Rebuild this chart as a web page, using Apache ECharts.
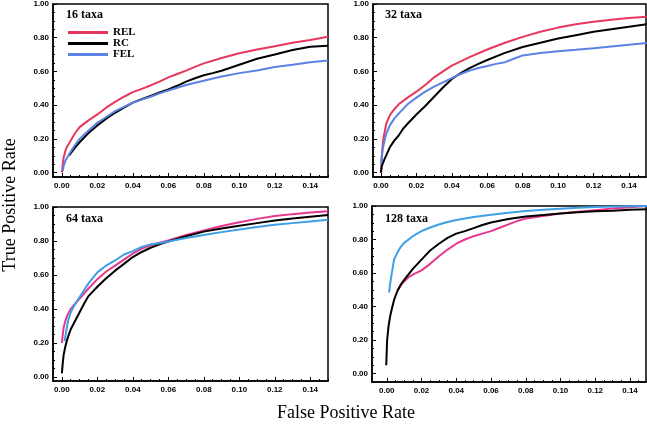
<!DOCTYPE html>
<html><head><meta charset="utf-8">
<script src="https://cdn.jsdelivr.net/npm/echarts@6/dist/echarts.min.js"></script>
<style>html,body{margin:0;padding:0;background:#fff}#c{width:647px;height:427px}</style>
</head><body><div id="c"></div>
<script>
// ---- data ----
const panelTitles = ['16 taxa', '32 taxa', '64 taxa', '128 taxa'];
const seriesNames = ['REL', 'RC', 'FEL'];
const xTickLabels = [0, 0.02, 0.04, 0.06, 0.08, 0.10, 0.12, 0.14];
const yTickLabels = [0, 0.2, 0.4, 0.6, 0.8, 1.0];
const xMinorTicks = [0,0.005,0.01,0.015,0.02,0.025,0.03,0.035,0.04,0.045,0.05,0.055,0.06,0.065,0.07,0.075,0.08,0.085,0.09,0.095,0.10,0.105,0.11,0.115,0.12,0.125,0.13,0.135,0.14,0.145,0.15];
const yMinorTicks = [0,0.05,0.1,0.15,0.2,0.25,0.3,0.35,0.4,0.45,0.5,0.55,0.6,0.65,0.7,0.75,0.8,0.85,0.9,0.95,1.0];

const rel16 = [[0,0],[0.0005,0.05],[0.001,0.09],[0.002,0.13],[0.003,0.155],[0.005,0.19],[0.0075,0.235],[0.01,0.27],[0.015,0.31],[0.02,0.345],[0.025,0.385],[0.03,0.42],[0.035,0.45],[0.04,0.477],[0.045,0.497],[0.05,0.517],[0.055,0.54],[0.06,0.565],[0.065,0.585],[0.07,0.605],[0.075,0.627],[0.08,0.648],[0.09,0.68],[0.10,0.708],[0.11,0.73],[0.12,0.75],[0.13,0.77],[0.14,0.787],[0.15,0.806]];
const rc16 = [[0.004,0.10],[0.005,0.11],[0.0075,0.15],[0.01,0.18],[0.015,0.235],[0.02,0.28],[0.025,0.32],[0.03,0.355],[0.035,0.385],[0.04,0.415],[0.045,0.435],[0.05,0.455],[0.055,0.475],[0.06,0.493],[0.065,0.515],[0.07,0.54],[0.075,0.56],[0.08,0.577],[0.085,0.59],[0.09,0.604],[0.095,0.622],[0.10,0.64],[0.11,0.675],[0.12,0.70],[0.13,0.727],[0.14,0.747],[0.15,0.753]];
const fel16 = [[0.0005,0.01],[0.001,0.04],[0.002,0.07],[0.003,0.09],[0.005,0.125],[0.0075,0.165],[0.01,0.20],[0.015,0.25],[0.02,0.295],[0.025,0.33],[0.03,0.365],[0.035,0.39],[0.04,0.415],[0.045,0.433],[0.05,0.45],[0.055,0.47],[0.06,0.487],[0.07,0.52],[0.08,0.545],[0.09,0.57],[0.10,0.59],[0.11,0.606],[0.12,0.626],[0.13,0.64],[0.14,0.655],[0.15,0.665]];

const rel32 = [[0,0],[0.0005,0.1],[0.001,0.17],[0.0015,0.21],[0.003,0.29],[0.005,0.34],[0.007,0.37],[0.01,0.405],[0.015,0.445],[0.02,0.48],[0.025,0.52],[0.03,0.565],[0.035,0.60],[0.04,0.635],[0.045,0.66],[0.05,0.685],[0.06,0.73],[0.07,0.77],[0.08,0.805],[0.09,0.835],[0.10,0.86],[0.11,0.88],[0.12,0.895],[0.13,0.907],[0.14,0.917],[0.15,0.925]];
const rc32 = [[0,0],[0.0005,0.04],[0.002,0.08],[0.005,0.15],[0.0075,0.19],[0.01,0.22],[0.0125,0.26],[0.015,0.29],[0.02,0.345],[0.025,0.395],[0.03,0.45],[0.035,0.505],[0.04,0.555],[0.045,0.59],[0.05,0.62],[0.055,0.645],[0.06,0.668],[0.07,0.71],[0.08,0.745],[0.09,0.77],[0.10,0.795],[0.11,0.815],[0.12,0.835],[0.13,0.85],[0.14,0.865],[0.15,0.88]];
const fel32 = [[0,0.05],[0.0005,0.09],[0.001,0.14],[0.002,0.19],[0.003,0.23],[0.005,0.28],[0.0075,0.32],[0.01,0.35],[0.015,0.405],[0.02,0.445],[0.025,0.48],[0.03,0.51],[0.035,0.535],[0.04,0.56],[0.045,0.585],[0.05,0.605],[0.055,0.62],[0.06,0.632],[0.065,0.645],[0.07,0.655],[0.075,0.675],[0.08,0.695],[0.09,0.71],[0.10,0.72],[0.11,0.728],[0.12,0.737],[0.13,0.748],[0.14,0.758],[0.15,0.768]];

const rel64 = [[0,0.2],[0.0005,0.25],[0.001,0.29],[0.002,0.33],[0.003,0.36],[0.005,0.40],[0.0075,0.43],[0.01,0.46],[0.015,0.52],[0.02,0.575],[0.025,0.62],[0.03,0.655],[0.035,0.69],[0.04,0.725],[0.045,0.755],[0.05,0.775],[0.055,0.79],[0.06,0.803],[0.07,0.835],[0.08,0.862],[0.09,0.888],[0.10,0.91],[0.11,0.93],[0.12,0.947],[0.13,0.958],[0.14,0.968],[0.15,0.975]];
const rc64 = [[0,0.02],[0.0005,0.08],[0.001,0.13],[0.002,0.18],[0.003,0.22],[0.005,0.28],[0.0075,0.33],[0.01,0.38],[0.0125,0.43],[0.015,0.475],[0.02,0.53],[0.025,0.58],[0.03,0.625],[0.035,0.665],[0.04,0.705],[0.045,0.735],[0.05,0.76],[0.055,0.78],[0.06,0.797],[0.07,0.828],[0.08,0.855],[0.09,0.873],[0.10,0.89],[0.11,0.905],[0.12,0.92],[0.13,0.932],[0.14,0.943],[0.15,0.953]];
const fel64 = [[0.0015,0.21],[0.0025,0.27],[0.0035,0.33],[0.005,0.38],[0.0075,0.43],[0.01,0.47],[0.0125,0.51],[0.015,0.55],[0.02,0.615],[0.025,0.655],[0.03,0.685],[0.035,0.72],[0.04,0.74],[0.045,0.765],[0.05,0.78],[0.055,0.787],[0.06,0.797],[0.07,0.817],[0.08,0.835],[0.09,0.852],[0.10,0.868],[0.11,0.882],[0.12,0.895],[0.13,0.905],[0.14,0.915],[0.15,0.925]];

const rel128 = [[0.0061,0.496],[0.008,0.525],[0.01,0.55],[0.0125,0.575],[0.015,0.59],[0.02,0.616],[0.025,0.655],[0.03,0.70],[0.035,0.74],[0.04,0.775],[0.045,0.80],[0.05,0.82],[0.055,0.835],[0.06,0.85],[0.065,0.87],[0.07,0.89],[0.075,0.91],[0.08,0.925],[0.09,0.94],[0.10,0.955],[0.11,0.965],[0.12,0.975],[0.13,0.985],[0.14,0.992],[0.15,1.0]];
const rc128 = [[-0.0003,0.05],[0.0002,0.2],[0.001,0.28],[0.0019,0.34],[0.003,0.39],[0.0042,0.44],[0.006,0.49],[0.008,0.53],[0.01,0.56],[0.015,0.625],[0.02,0.68],[0.025,0.735],[0.03,0.775],[0.035,0.81],[0.04,0.835],[0.045,0.85],[0.05,0.868],[0.055,0.887],[0.06,0.902],[0.07,0.922],[0.08,0.937],[0.09,0.947],[0.10,0.955],[0.11,0.962],[0.12,0.968],[0.13,0.972],[0.14,0.977],[0.15,0.98]];
const fel128 = [[0.0013,0.484],[0.002,0.54],[0.0029,0.60],[0.0042,0.68],[0.006,0.72],[0.008,0.755],[0.01,0.78],[0.015,0.82],[0.02,0.85],[0.025,0.872],[0.03,0.89],[0.035,0.905],[0.04,0.916],[0.05,0.935],[0.06,0.948],[0.07,0.96],[0.08,0.97],[0.09,0.977],[0.10,0.984],[0.11,0.99],[0.12,0.994],[0.13,0.997],[0.14,0.999],[0.15,1.0]];

// ---- layout/styles ----
const panels = [
  {grid:{left:53,top:3,width:275,height:174}, xr:[-0.005,0.15], yr:[-0.026,1.0], data:[rel16,rc16,fel16], colors:['#e8375c','#000000','#5b82e3'], tpos:[66,9]},
  {grid:{left:373,top:3,width:273,height:174}, xr:[-0.0045,0.1496], yr:[-0.026,1.0], data:[rel32,rc32,fel32], colors:['#e8375c','#000000','#5b82e3'], tpos:[385,9]},
  {grid:{left:53,top:207,width:275,height:174}, xr:[-0.005,0.15], yr:[-0.025,1.0], data:[rel64,rc64,fel64], colors:['#e8358e','#000000','#3d9fe6'], tpos:[66,213]},
  {grid:{left:372,top:206,width:274,height:176}, xr:[-0.0085,0.1492], yr:[-0.05,1.0], data:[rel128,rc128,fel128], colors:['#e8358e','#000000','#3d9fe6'], tpos:[385,213]}
];

const grids=[], xAxes=[], yAxes=[], series=[], titles=[];
const lbl = {fontFamily:'Liberation Sans', fontWeight:'bold', fontSize:8, color:'#000'};
panels.forEach((p,i)=>{
  grids.push(Object.assign({show:true, borderColor:'#000', borderWidth:1.5, backgroundColor:'transparent'}, p.grid));
  const common = {type:'value', gridIndex:i, splitLine:{show:false}};
  xAxes.push(Object.assign({}, common, {min:p.xr[0], max:p.xr[1], position:'bottom',
    axisLine:{show:true, onZero:false, lineStyle:{color:'#000', width:1.5}},
    axisTick:{show:true, inside:true, length:4, customValues:xTickLabels, lineStyle:{color:'#000', width:1}},
    axisLabel:Object.assign({show:true, margin:5, customValues:xTickLabels, formatter:v=>v.toFixed(2)}, lbl)}));
  xAxes.push(Object.assign({}, common, {min:p.xr[0], max:p.xr[1], position:'bottom',
    axisLine:{show:false, onZero:false},
    axisTick:{show:true, inside:true, length:2, customValues:xMinorTicks, lineStyle:{color:'#000', width:1}},
    axisLabel:{show:false}}));
  yAxes.push(Object.assign({}, common, {min:p.yr[0], max:p.yr[1], position:'left',
    axisLine:{show:true, onZero:false, lineStyle:{color:'#000', width:1.5}},
    axisTick:{show:true, inside:true, length:4, customValues:yTickLabels, lineStyle:{color:'#000', width:1}},
    axisLabel:Object.assign({show:true, margin:4, customValues:yTickLabels, formatter:v=>v.toFixed(2)}, lbl)}));
  yAxes.push(Object.assign({}, common, {min:p.yr[0], max:p.yr[1], position:'left',
    axisLine:{show:false, onZero:false},
    axisTick:{show:true, inside:true, length:2, customValues:yMinorTicks, lineStyle:{color:'#000', width:1}},
    axisLabel:{show:false}}));
  p.data.forEach((d,k)=>{
    series.push({type:'line', name:seriesNames[k], xAxisIndex:2*i, yAxisIndex:2*i, data:d,
      showSymbol:false, symbol:'none', smooth:false, clip:true, animation:false,
      lineStyle:{color:p.colors[k], width:2}, itemStyle:{color:p.colors[k]}, z:2});
  });
  titles.push({text:panelTitles[i], left:p.tpos[0], top:p.tpos[1], padding:0,
    textStyle:{fontFamily:'Liberation Serif', fontWeight:'bold', fontSize:12, color:'#000'}});
});

const chart = echarts.init(document.getElementById('c'), null, {renderer:'canvas'});
chart.setOption({
  animation:false,
  backgroundColor:'#fff',
  title:titles,
  grid:grids, xAxis:xAxes, yAxis:yAxes, series:series,
  legend:{data:seriesNames, orient:'vertical', left:68, top:27, itemWidth:40, itemHeight:3, itemGap:0,
    icon:'rect', padding:0,
    textStyle:{fontFamily:'Liberation Serif', fontWeight:'bold', fontSize:11, color:'#000', lineHeight:10.5}},
  graphic:[
    {type:'text', rotation:Math.PI/2, x:10, y:205, style:{text:'True Positive Rate', font:'18px "Liberation Serif"', fill:'#000', textAlign:'center', textVerticalAlign:'middle'}},
    {type:'text', x:346, y:413, style:{text:'False Positive Rate', font:'18px "Liberation Serif"', fill:'#000', textAlign:'center', textVerticalAlign:'middle'}}
  ]
});
</script></body></html>
